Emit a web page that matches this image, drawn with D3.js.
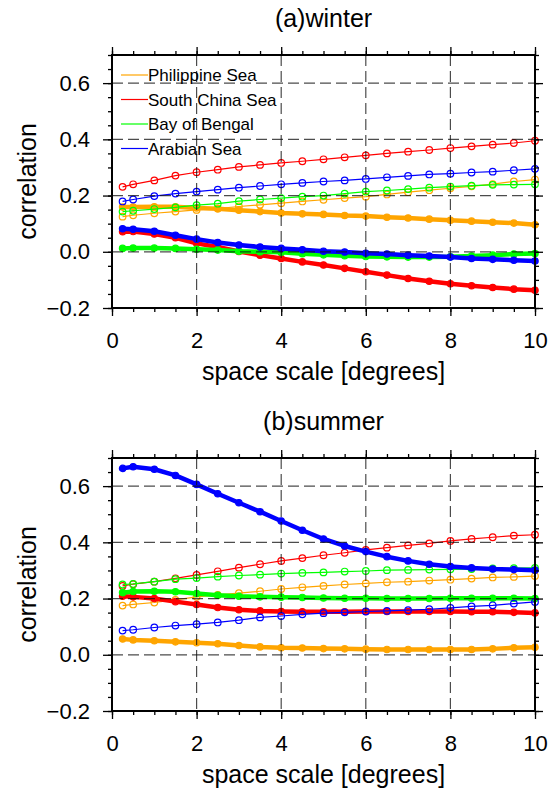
<!DOCTYPE html>
<html>
<head>
<meta charset="utf-8">
<script src="https://cdn.jsdelivr.net/npm/d3@7"></script>
<style>
  body { margin: 0; background: #fff; }
  text { font-family: "Liberation Sans", Arial, Helvetica, sans-serif; fill: #000; }
</style>
</head>
<body>
<div id="chart"></div>
<script>
// space scale [degrees]
var xs = [0.25, 0.5, 1, 1.5, 2, 2.5, 3, 3.5, 4, 4.5, 5, 5.5, 6, 6.5, 7, 7.5, 8, 8.5, 9, 9.5, 10];

var regions = ["Philippine Sea", "South China Sea", "Bay of Bengal", "Arabian Sea"];
var colors = ["#FFA500", "#FF0000", "#00FF00", "#0000FF"];

var xTicks = [0, 2, 4, 6, 8, 10];
var yTicks = [-0.2, 0.0, 0.2, 0.4, 0.6];

// (a) winter - thin lines, open circles
var winterPhilThin = [0.125,0.130,0.137,0.143,0.149,0.154,0.161,0.167,0.173,0.179,0.185,0.191,0.196,0.204,0.212,0.219,0.226,0.233,0.241,0.250,0.257];
var winterScsThin  = [0.231,0.240,0.254,0.271,0.283,0.292,0.302,0.309,0.316,0.322,0.329,0.336,0.343,0.350,0.356,0.362,0.369,0.375,0.381,0.387,0.395];
var winterBobThin  = [0.143,0.146,0.152,0.158,0.166,0.171,0.180,0.186,0.191,0.196,0.200,0.207,0.214,0.218,0.223,0.228,0.232,0.235,0.238,0.239,0.240];
var winterArabThin = [0.179,0.186,0.198,0.207,0.214,0.221,0.228,0.234,0.240,0.245,0.250,0.254,0.259,0.265,0.270,0.275,0.278,0.282,0.285,0.290,0.295];
// (a) winter - thick lines, filled dots
var winterPhilThick = [0.159,0.159,0.160,0.160,0.156,0.153,0.148,0.143,0.138,0.135,0.133,0.129,0.127,0.123,0.120,0.116,0.112,0.109,0.105,0.102,0.096];
var winterScsThick  = [0.071,0.072,0.063,0.050,0.030,0.017,0.001,-0.012,-0.024,-0.036,-0.047,-0.059,-0.071,-0.083,-0.095,-0.105,-0.114,-0.121,-0.127,-0.133,-0.137];
var winterBobThick  = [0.012,0.013,0.013,0.012,0.009,0.006,0.002,0.000,-0.002,-0.007,-0.011,-0.014,-0.017,-0.018,-0.019,-0.019,-0.018,-0.015,-0.012,-0.008,-0.006];
var winterArabThick = [0.082,0.080,0.073,0.059,0.045,0.033,0.024,0.017,0.012,0.007,0.002,-0.001,-0.005,-0.008,-0.012,-0.015,-0.019,-0.024,-0.027,-0.030,-0.033];

// (b) summer - thin lines
var summerPhilThin = [0.175,0.179,0.186,0.195,0.206,0.213,0.219,0.226,0.234,0.240,0.245,0.250,0.254,0.258,0.260,0.264,0.267,0.271,0.275,0.277,0.280];
var summerScsThin  = [0.245,0.251,0.260,0.272,0.284,0.297,0.310,0.322,0.334,0.344,0.354,0.363,0.373,0.381,0.389,0.396,0.405,0.412,0.418,0.424,0.427];
var summerBobThin  = [0.250,0.252,0.260,0.269,0.273,0.278,0.282,0.285,0.289,0.291,0.293,0.296,0.298,0.301,0.302,0.303,0.304,0.305,0.307,0.308,0.309];
var summerArabThin = [0.086,0.089,0.097,0.104,0.109,0.115,0.123,0.133,0.138,0.144,0.148,0.151,0.154,0.156,0.159,0.162,0.167,0.172,0.176,0.182,0.188];
// (b) summer - thick lines
var summerPhilThick = [0.056,0.053,0.050,0.046,0.043,0.039,0.033,0.028,0.025,0.024,0.022,0.021,0.020,0.019,0.019,0.019,0.019,0.019,0.021,0.025,0.027];
var summerScsThick  = [0.208,0.206,0.200,0.189,0.179,0.168,0.160,0.156,0.154,0.153,0.153,0.153,0.154,0.154,0.154,0.154,0.154,0.153,0.153,0.151,0.149];
var summerBobThick  = [0.221,0.225,0.226,0.224,0.218,0.212,0.208,0.206,0.205,0.204,0.202,0.201,0.201,0.200,0.200,0.200,0.201,0.201,0.201,0.201,0.200];
var summerArabThick = [0.663,0.669,0.660,0.638,0.606,0.573,0.541,0.509,0.476,0.443,0.412,0.387,0.367,0.349,0.334,0.322,0.314,0.309,0.305,0.303,0.301];

var W = 554, H = 790;

var svg = d3.select("#chart").append("svg")
  .attr("width", W)
  .attr("height", H);

drawPanel({
  top: 55, title: "(a)winter", legend: true,
  thin: [winterPhilThin, winterScsThin, winterBobThin, winterArabThin],
  thick: [winterPhilThick, winterScsThick, winterBobThick, winterArabThick]
});

drawPanel({
  top: 458, title: "(b)summer", legend: false,
  thin: [summerPhilThin, summerScsThin, summerBobThin, summerArabThin],
  thick: [summerPhilThick, summerScsThick, summerBobThick, summerArabThick]
});

function drawPanel(p) {
  var left = 112, width = 423, height = 253;

  var g = svg.append("g")
    .attr("transform", "translate(" + left + "," + p.top + ")");

  var x = d3.scaleLinear().domain([0, 10]).range([0, width]);
  var y = d3.scaleLinear().domain([-0.2, 0.7]).range([height, 0]);

  var xMinor = d3.range(0, 10.01, 0.5);
  var yMinor = d3.range(-0.2, 0.701, 0.05);

  // data: thin then thick for each region
  for (var i = 0; i < regions.length; i++) {
    drawSeries(g, x, y, p.thin[i], colors[i], false);
    drawSeries(g, x, y, p.thick[i], colors[i], true);
  }

  // dashed grid
  g.selectAll(".hgrid")
    .data(yTicks.filter(function(d) { return d > -0.2; }))
    .enter().append("line")
    .attr("x1", 0).attr("x2", width)
    .attr("y1", function(d) { return y(d); })
    .attr("y2", function(d) { return y(d); })
    .style("stroke", "#111")
    .style("stroke-width", 1.2)
    .style("stroke-dasharray", "11,5")
    .style("opacity", 0.75);

  g.selectAll(".vgrid")
    .data(xTicks.filter(function(d) { return d > 0 && d < 10; }))
    .enter().append("line")
    .attr("y1", 0).attr("y2", height)
    .attr("x1", function(d) { return x(d); })
    .attr("x2", function(d) { return x(d); })
    .style("stroke", "#111")
    .style("stroke-width", 1.2)
    .style("stroke-dasharray", "11,5")
    .style("opacity", 0.75);

  // minor ticks
  g.append("g").attr("class", "minor")
    .call(d3.axisLeft(y).tickValues(yMinor).tickSize(4).tickFormat(""));
  g.append("g").attr("class", "minor")
    .attr("transform", "translate(" + width + ",0)")
    .call(d3.axisRight(y).tickValues(yMinor).tickSize(4).tickFormat(""));
  g.append("g").attr("class", "minor")
    .attr("transform", "translate(0," + height + ")")
    .call(d3.axisBottom(x).tickValues(xMinor).tickSize(4).tickFormat(""));
  g.append("g").attr("class", "minor")
    .call(d3.axisTop(x).tickValues(xMinor).tickSize(4).tickFormat(""));

  // major ticks
  g.append("g").attr("class", "y axis")
    .call(d3.axisLeft(y).tickValues(yTicks).tickSize(9).tickPadding(13).tickFormat(d3.format(".1f")));
  g.append("g").attr("class", "major")
    .attr("transform", "translate(" + width + ",0)")
    .call(d3.axisRight(y).tickValues(yTicks).tickSize(8).tickFormat(""));
  g.append("g").attr("class", "x axis")
    .attr("transform", "translate(0," + height + ")")
    .call(d3.axisBottom(x).tickValues(xTicks).tickSize(8).tickPadding(16).tickFormat(d3.format("d")));
  g.append("g").attr("class", "major")
    .call(d3.axisTop(x).tickValues(xTicks).tickSize(8).tickFormat(""));

  g.selectAll(".domain").remove();
  g.selectAll(".tick line").style("stroke", "#000").style("stroke-width", 1.3);
  g.selectAll(".tick text")
    .style("font-size", "22px")
    .style("font-family", "'Liberation Sans', Arial, sans-serif")
    .attr("fill", "#000");

  // frame
  g.append("rect")
    .attr("width", width).attr("height", height)
    .style("fill", "none")
    .style("stroke", "#000")
    .style("stroke-width", 2);

  // title
  g.append("text")
    .attr("x", width / 2).attr("y", -28)
    .attr("text-anchor", "middle")
    .style("font-size", "25px")
    .text(p.title);

  // axis labels
  g.append("text")
    .attr("x", width / 2).attr("y", height + 72)
    .attr("text-anchor", "middle")
    .style("font-size", "25px")
    .text("space scale [degrees]");

  g.append("text")
    .attr("transform", "translate(" + (28 - left + 8) + "," + (height / 2) + ") rotate(-90)")
    .attr("text-anchor", "middle")
    .style("font-size", "25px")
    .text("correlation");

  if (p.legend) {
    var leg = g.selectAll(".legend")
      .data(regions)
      .enter().append("g")
      .attr("class", "legend")
      .attr("transform", function(d, i) { return "translate(9," + (20 + i * 24.5) + ")"; });
    leg.append("line")
      .attr("x1", 0).attr("x2", 27)
      .style("stroke", function(d, i) { return colors[i]; })
      .style("stroke-width", 1.2);
    leg.append("text")
      .attr("x", 27).attr("y", 6)
      .style("font-size", "17px")
      .text(function(d) { return d; });
  }
}

function drawSeries(g, x, y, vals, color, thick) {
  var pts = vals.map(function(v, i) { return { x: xs[i], v: v }; });

  var line = d3.line()
    .x(function(d) { return x(d.x); })
    .y(function(d) { return y(d.v); });

  g.append("path")
    .datum(pts)
    .attr("d", line)
    .style("fill", "none")
    .style("stroke", color)
    .style("stroke-width", thick ? 4.5 : 1.2)
    .style("stroke-linejoin", "round");

  g.append("g").selectAll("circle")
    .data(pts)
    .enter().append("circle")
    .attr("cx", function(d) { return x(d.x); })
    .attr("cy", function(d) { return y(d.v); })
    .attr("r", thick ? 3.2 : 3.3)
    .style("fill", thick ? color : "none")
    .style("stroke", color)
    .style("stroke-width", 1.2);
}
</script>
</body>
</html>
